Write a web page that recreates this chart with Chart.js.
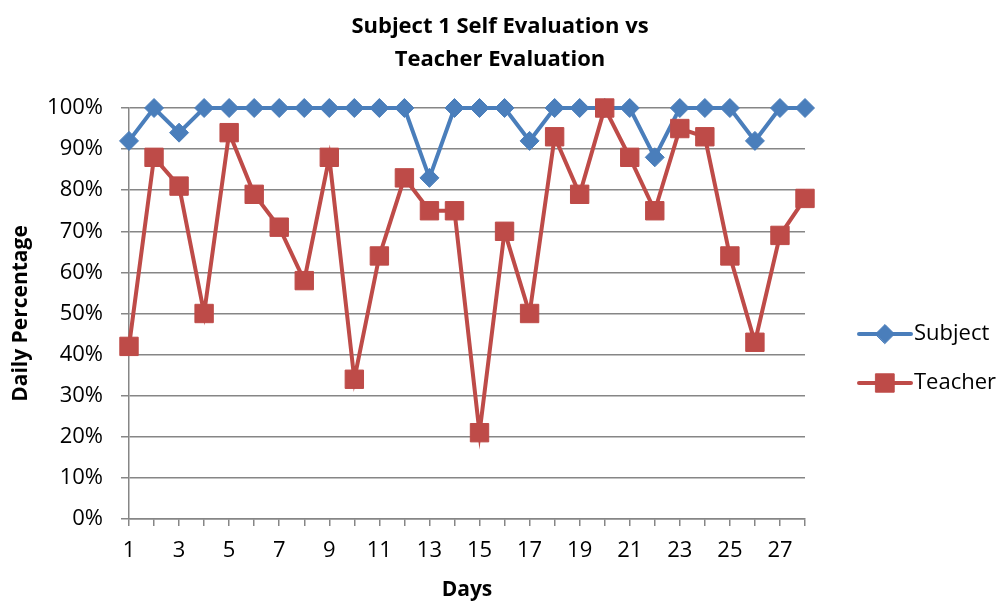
<!DOCTYPE html>
<html>
<head>
<meta charset="utf-8">
<script src="https://cdn.jsdelivr.net/npm/chart.js@4/dist/chart.umd.min.js"></script>
<style>
html,body{margin:0;padding:0;background:#fff;}
#wrap{width:1004px;height:603px;position:relative;}
</style>
</head>
<body>
<div id="wrap"><canvas id="c" width="1004" height="603"></canvas></div>
<script>
const days = [1,2,3,4,5,6,7,8,9,10,11,12,13,14,15,16,17,18,19,20,21,22,23,24,25,26,27,28];
const subjectValues = [92,100,94,100,100,100,100,100,100,100,100,100,83,100,100,100,92,100,100,100,100,88,100,100,100,92,100,100];
const teacherValues = [42,88,81,50,94,79,71,58,88,34,64,83,75,75,21,70,50,93,79,100,88,75,95,93,64,43,69,78];
const yTicks = [0,10,20,30,40,50,60,70,80,90,100];
const titleLines = ['Subject 1 Self Evaluation vs','Teacher Evaluation'];
const seriesNames = ['Subject','Teacher'];

const FONT = "'Open Sans', 'DejaVu Sans', sans-serif";
const GRID = '#868686';
const BLUE = '#4a7ebb';
const RED = '#be4b48';

const titlePlugin = {
  id: 'topTitle',
  afterDraw(chart) {
    const ctx = chart.ctx;
    ctx.save();
    ctx.fillStyle = '#000';
    ctx.font = 'bold 22px ' + FONT;
    ctx.textAlign = 'center';
    ctx.textBaseline = 'middle';
    const ys = [27, 60];
    titleLines.forEach((t, i) => ctx.fillText(t, 500, ys[i]));
    ctx.restore();
  }
};

const legendPlugin = {
  id: 'sideLegend',
  afterDraw(chart) {
    const ctx = chart.ctx;
    const rows = [334, 383];
    chart.data.datasets.forEach((ds, i) => {
      const y = rows[i];
      ctx.save();
      ctx.strokeStyle = ds.borderColor;
      ctx.lineWidth = 4;
      ctx.lineCap = 'round';
      ctx.beginPath();
      ctx.moveTo(859, y);
      ctx.lineTo(911, y);
      ctx.stroke();
      ctx.fillStyle = ds.pointBackgroundColor;
      ctx.strokeStyle = ds.pointBorderColor;
      ctx.lineWidth = 1;
      Chart.helpers.drawPoint(ctx, {
        pointStyle: ds.pointStyle,
        radius: ds.pointRadius,
        borderWidth: 1
      }, 885, y);
      ctx.fillStyle = '#000';
      ctx.font = '22px ' + FONT;
      ctx.textBaseline = 'middle';
      ctx.textAlign = 'left';
      ctx.fillText(ds.label, 914, y);
      ctx.restore();
    });
  }
};

new Chart(document.getElementById('c'), {
  type: 'line',
  data: {
    labels: days,
    datasets: [
      {
        label: seriesNames[0],
        data: subjectValues,
        borderColor: BLUE,
        backgroundColor: BLUE,
        pointBackgroundColor: BLUE,
        pointBorderColor: BLUE,
        borderWidth: 4,
        pointStyle: 'rectRot',
        pointRadius: 9.5,
        pointBorderWidth: 1,
        tension: 0,
        clip: false,
        order: 1
      },
      {
        label: seriesNames[1],
        data: teacherValues,
        borderColor: RED,
        backgroundColor: RED,
        pointBackgroundColor: RED,
        pointBorderColor: RED,
        borderWidth: 4,
        pointStyle: 'rect',
        pointRadius: 13,
        pointBorderWidth: 1,
        tension: 0,
        clip: false,
        order: 0
      }
    ]
  },
  options: {
    responsive: false,
    animation: false,
    devicePixelRatio: 1,
    layout: { padding: { left: 0, right: 199, top: 108, bottom: 0 } },
    plugins: {
      legend: { display: false },
      tooltip: { enabled: false },
      title: { display: false }
    },
    scales: {
      x: {
        type: 'category',
        offset: false,
        grid: { drawOnChartArea: false, drawTicks: true, tickLength: 7, color: GRID, lineWidth: 1.5 },
        border: { color: GRID, width: 1.5 },
        ticks: {
          autoSkip: false,
          maxRotation: 0,
          color: '#000',
          font: { family: FONT, size: 22 },
          padding: 12,
          callback: function(v, i) { const d = days[i]; return d % 2 === 1 ? String(d) : ''; }
        },
        title: {
          display: true,
          text: 'Days',
          color: '#000',
          font: { family: FONT, size: 21, weight: 'bold' },
          padding: { top: 8, bottom: 0 }
        },
        afterFit: s => { s.height = 84; }
      },
      y: {
        min: 0,
        max: 100,
        afterBuildTicks: s => { s.ticks = yTicks.map(v => ({ value: v })); },
        grid: { color: GRID, lineWidth: 1.5, tickLength: 8 },
        border: { color: GRID, width: 1.5 },
        ticks: {
          color: '#000',
          font: { family: FONT, size: 22 },
          padding: 18,
          callback: v => v + '%'
        },
        title: {
          display: true,
          text: 'Daily Percentage',
          color: '#000',
          font: { family: FONT, size: 21, weight: 'bold' },
          padding: { top: 8, bottom: 0 }
        },
        afterFit: s => { s.width = 129; }
      }
    }
  },
  plugins: [titlePlugin, legendPlugin]
});
</script>
</body>
</html>
